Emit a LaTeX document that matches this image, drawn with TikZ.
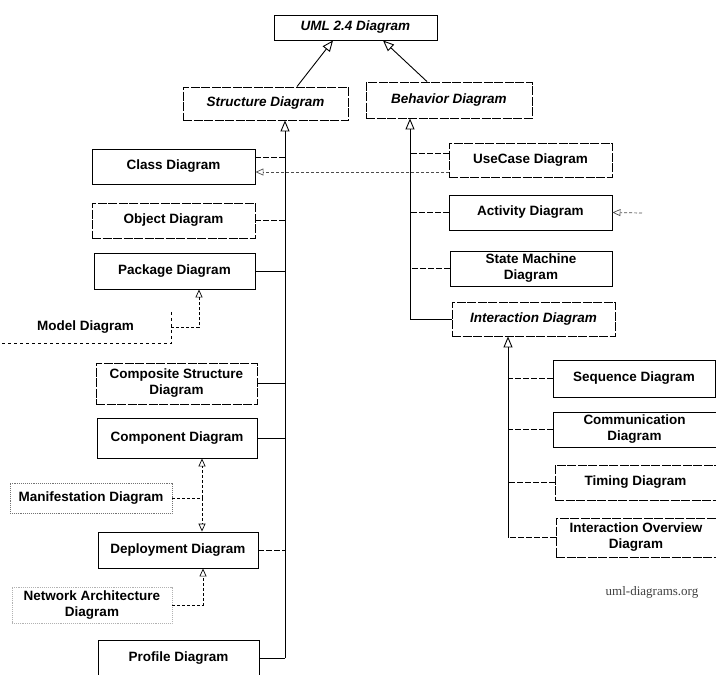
\documentclass[tikz,border=0pt]{standalone}
\usepackage{fontspec}
\setmainfont{Liberation Sans}
\newfontfamily\webfont{Liberation Serif}
\usetikzlibrary{arrows.meta}

\begin{document}
\begin{tikzpicture}[x=1pt, y=-1pt,
    box/.style={rectangle, draw, line width=0.9pt, minimum width=163pt, minimum height=35pt,
      inner sep=2pt, align=center, font=\fontsize{13.5}{16}\selectfont\bfseries},
    dbox/.style={box, dash pattern=on 9pt off 1.5pt},
    abox/.style={box, dash pattern=on 9pt off 1.5pt, font=\fontsize{13.5}{16}\selectfont\bfseries\itshape},
    fbox/.style={box, draw=black!55, densely dotted, line width=0.6pt},
    link/.style={line width=0.9pt},
    dlink/.style={link, dash pattern=on 6pt off 2pt},
    gen/.style={link, -{Triangle[open, length=11pt, width=9pt]}},
    dgen/.style={line width=0.7pt, densely dashed, -{Triangle[open, length=8pt, width=7pt]}}
  ]
  \useasboundingbox (0,0) rectangle (716,675);

  % top of the hierarchy
  \node[abox, dash pattern=, minimum height=25pt] (uml) at (355.5,27.5) {UML 2.4 Diagram};
  \node[abox, minimum width=165pt, minimum height=33pt] (struct) at (265.5,103.5) {Structure Diagram};
  \node[abox, minimum width=166pt, minimum height=36pt] (behav) at (449,100) {Behavior Diagram};

  \draw[gen] ([xshift=31.5pt]struct.north) -- ([xshift=-22.5pt]uml.south);
  \draw[gen] ([xshift=-22pt]behav.north) -- ([xshift=27.5pt]uml.south);

  % structure diagrams
  \node[box] (class) at (173.5,166.5) {Class Diagram};
  \node[dbox] (object) at (173.5,220.5) {Object Diagram};
  \node[box, minimum width=161pt, minimum height=36pt] (package) at (174.5,271) {Package Diagram};
  \node[font=\fontsize{13.5}{16}\selectfont\bfseries, minimum width=171pt, minimum height=31pt] (model) at (85.5,327.5) {Model Diagram};
  \node[dbox, minimum width=161pt, minimum height=41pt] (composite) at (176.5,383.5) {Composite Structure\\Diagram};
  \node[box, minimum width=160pt, minimum height=40pt] (component) at (177,438) {Component Diagram};
  \node[fbox, minimum width=162pt, minimum height=30pt] (manifest) at (91,498) {Manifestation Diagram};
  \node[box, minimum width=160pt, minimum height=36pt] (deploy) at (178,550) {Deployment Diagram};
  \node[fbox, draw=black!30, minimum width=160pt, minimum height=36pt] (network) at (92,605) {Network Architecture\\Diagram};
  \node[box, minimum width=161pt, minimum height=36pt] (profile) at (178.5,658) {Profile Diagram};

  \draw[dashed, line width=0.6pt] (model.north east) -- (model.south east) -- (model.south west);

  \coordinate (sx) at (285,0);
  \draw[gen] (profile.east -| sx) -- (struct.south -| sx);
  \draw[dlink] ([yshift=9.5pt]class.east) -- ([yshift=9.5pt]class.east -| sx);
  \draw[dlink] (object.east) -- (object.east -| sx);
  \draw[link] (package.east) -- (package.east -| sx);
  \draw[link] (composite.east) -- (composite.east -| sx);
  \draw[link] (component.east) -- (component.east -| sx);
  \draw[dlink] (deploy.east) -- (deploy.east -| sx);
  \draw[link] (profile.east) -- (profile.east -| sx);

  \draw[dgen] (model.east) -| ([xshift=24.5pt]package.south);
  \draw[dgen] (manifest.east) -| ([xshift=25pt]component.south);
  \draw[dgen] (manifest.east) -| ([xshift=24pt]deploy.north);
  \draw[dgen] (network.east) -| ([xshift=25pt]deploy.south);

  % behavior diagrams
  \node[dbox, minimum height=34pt] (usecase) at (530.5,160) {UseCase Diagram};
  \node[box] (activity) at (530.5,212.5) {Activity Diagram};
  \node[box, minimum width=162pt] (state) at (531,268.5) {State Machine\\Diagram};
  \node[abox, minimum height=34pt] (interact) at (533.5,319) {Interaction Diagram};

  \coordinate (bx) at (410,0);
  \draw[gen] (interact.west -| bx) -- (behav.south -| bx);
  \draw[dlink] ([yshift=7pt]usecase.west) -- ([yshift=7pt]usecase.west -| bx);
  \draw[dlink] (activity.west) -- (activity.west -| bx);
  \draw[dlink] (state.west) -- (state.west -| bx);
  \draw[link] (interact.west) -- (interact.west -| bx);

  % stray dependencies
  \draw[dgen, draw=black!70] ([yshift=-12pt]usecase.west) -- ([yshift=-5.5pt]class.east);
  \coordinate (astub) at (642,213);
  \draw[dgen, draw=black!70] (astub) -- (activity.east);

  % interaction diagrams
  \node[box, minimum width=162pt, minimum height=37pt] (sequence) at (634,378.5) {Sequence Diagram};
  \node[box] (comm) at (634.5,429.5) {Communication\\Diagram};
  \node[dbox, minimum width=161pt] (timing) at (635.5,482.5) {Timing Diagram};
  \node[dbox, minimum width=160pt, minimum height=39pt] (overview) at (636,537.5) {Interaction Overview\\Diagram};

  \coordinate (ix) at (508,0);
  \draw[gen] (overview.west -| ix) -- (interact.south -| ix);
  \draw[dlink] (sequence.west) -- (sequence.west -| ix);
  \draw[dlink] (comm.west) -- (comm.west -| ix);
  \draw[dlink] (timing.west) -- (timing.west -| ix);
  \draw[dlink] (overview.west) -- (overview.west -| ix);

  \node[font=\webfont\fontsize{13}{15}\selectfont, text=black!75] (site) at (652,592) {uml-diagrams.org};
\end{tikzpicture}
\end{document}
